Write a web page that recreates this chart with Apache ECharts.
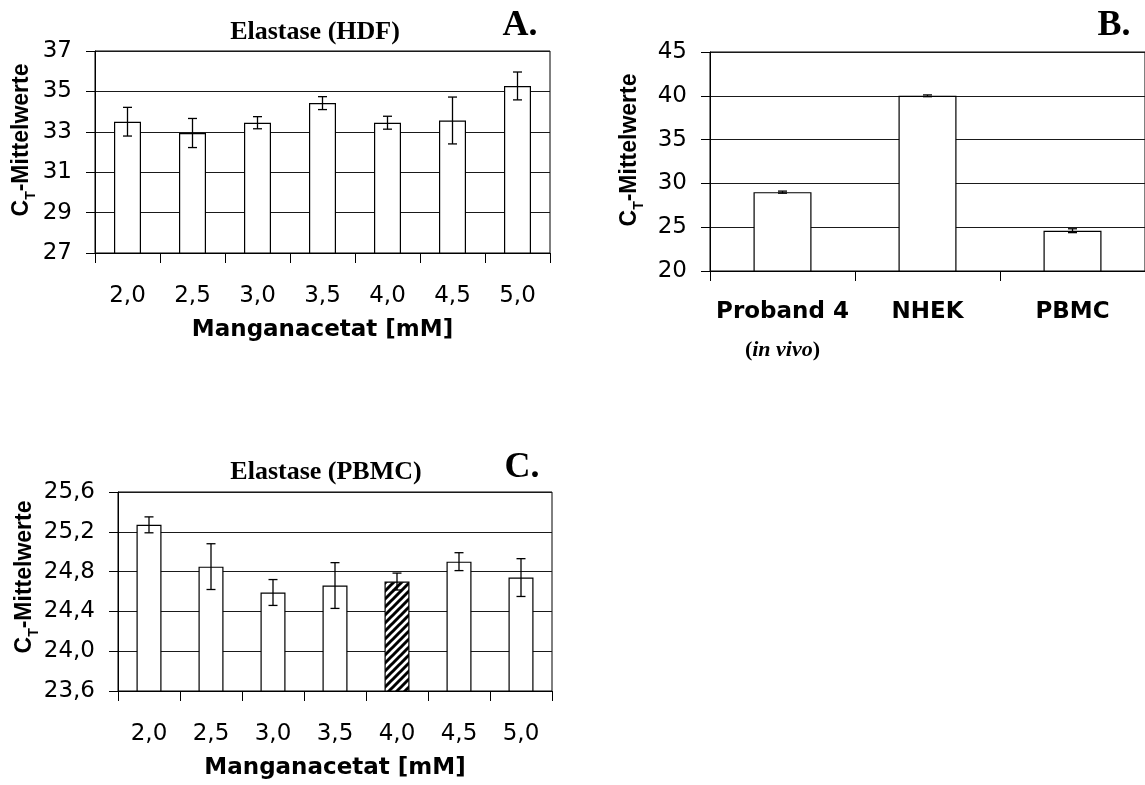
<!DOCTYPE html>
<html>
<head>
<meta charset="utf-8">
<script src="https://cdn.jsdelivr.net/npm/echarts@6/dist/echarts.min.js"></script>
<style>
  html, body { margin: 0; padding: 0; background: #fff; }
  #chart { width: 1145px; height: 785px; }
</style>
</head>
<body>
<div id="chart"></div>
<script>
// Elastase Ct means (manganese acetate series in HDF and PBMC, cell-source comparison)
const doses = ['2,0', '2,5', '3,0', '3,5', '4,0', '4,5', '5,0'];

const hdfMean = [33.50, 32.94, 33.45, 34.42, 33.45, 33.56, 35.27];
const hdfErr  = [0.71, 0.72, 0.30, 0.32, 0.32, 1.16, 0.69];

const sources    = ['Proband 4', 'NHEK', 'PBMC'];
const sourceMean = [29.0, 40.0, 24.6];
const sourceErr  = [0.12, 0.10, 0.22];

const pbmcMean = [25.27, 24.85, 24.59, 24.66, 24.70, 24.90, 24.74];
const pbmcErr  = [0.08, 0.23, 0.13, 0.23, 0.085, 0.09, 0.19];

// dose whose PBMC bar is drawn hatched
const hatchedDose = '4,0';

const SANS = 'DejaVu Sans';
const SERIF = 'Liberation Serif';

// diagonal hatch tile
const tile = document.createElement('canvas');
tile.width = 8; tile.height = 8;
(function () {
  const g = tile.getContext('2d');
  g.fillStyle = '#fff';
  g.fillRect(0, 0, 8, 8);
  g.strokeStyle = '#000';
  g.lineWidth = 3;
  g.beginPath();
  g.moveTo(-1, 9); g.lineTo(9, -1);
  g.moveTo(-5, 5); g.lineTo(5, -5);
  g.moveTo(3, 13); g.lineTo(13, 3);
  g.stroke();
})();

const comma = v => String(v).replace('.', ',');

function valueAxis(gridIndex, min, max, interval, fmt) {
  return {
    type: 'value', gridIndex, min, max, interval,
    axisLine: { show: true, lineStyle: { color: '#000', width: 1 } },
    axisTick: { show: true, length: 9, lineStyle: { color: '#000', width: 1 } },
    axisLabel: { color: '#000', fontFamily: SANS, fontSize: 23, margin: 23, formatter: fmt },
    splitLine: { show: true, lineStyle: { color: '#1a1a1a', width: 1 } }
  };
}

function catAxis(gridIndex, data, extra) {
  return Object.assign({
    type: 'category', gridIndex, data,
    axisLine: { show: true, lineStyle: { color: '#000', width: 1 } },
    axisTick: { show: true, length: 10, alignWithLabel: false, lineStyle: { color: '#000', width: 1 } },
    axisLabel: { color: '#000', fontFamily: SANS, fontSize: 23, margin: 32 },
    splitLine: { show: false }
  }, extra || {});
}

const xName = {
  name: 'Manganacetat [mM]',
  nameLocation: 'middle',
  nameGap: 66,
  nameTextStyle: { color: '#000', fontFamily: SANS, fontWeight: 'bold', fontSize: 23 }
};

function barSeries(idx, data, width, hatchIdx) {
  return {
    type: 'bar', xAxisIndex: idx, yAxisIndex: idx,
    barWidth: width,
    data: data.map((v, i) => ({
      value: v,
      itemStyle: i === hatchIdx ? { color: { image: tile, repeat: 'repeat' } } : undefined
    })),
    itemStyle: { color: '#fff', borderColor: '#000', borderWidth: 1.2 },
    silent: true, animation: false, z: 2
  };
}

function errSeries(idx, mean, err) {
  return {
    type: 'custom', xAxisIndex: idx, yAxisIndex: idx,
    data: mean.map((m, i) => [i, m, err[i]]),
    renderItem: function (params, api) {
      const i = api.value(0), m = api.value(1), e = api.value(2);
      const top = api.coord([i, m + e]);
      const bot = api.coord([i, m - e]);
      const x = top[0], hw = 4.5;
      const st = { stroke: '#000', lineWidth: 1.3 };
      return {
        type: 'group',
        children: [
          { type: 'line', shape: { x1: x, y1: top[1], x2: x, y2: bot[1] }, style: st },
          { type: 'line', shape: { x1: x - hw, y1: top[1], x2: x + hw, y2: top[1] }, style: st },
          { type: 'line', shape: { x1: x - hw, y1: bot[1], x2: x + hw, y2: bot[1] }, style: st }
        ]
      };
    },
    silent: true, animation: false, z: 5
  };
}

function yName(x, y) {
  return {
    type: 'text', x, y, rotation: Math.PI / 2,
    style: {
      text: '{c|C}{s|T}{c|-Mittelwerte}',
      align: 'center', verticalAlign: 'middle',
      rich: {
        c: { fontFamily: 'Liberation Sans', fontWeight: 'bold', fontSize: 23, lineHeight: 32, verticalAlign: 'middle', fill: '#000' },
        s: { fontFamily: 'Liberation Sans', fontWeight: 'bold', fontSize: 14, lineHeight: 14, verticalAlign: 'bottom', fill: '#000' }
      }
    }
  };
}

function label(text, x, y, size) {
  return {
    type: 'text', x, y,
    style: { text, fontFamily: SERIF, fontWeight: 'bold', fontSize: size, fill: '#000', align: 'center', verticalAlign: 'middle' }
  };
}

const gridStyle = { show: true, borderColor: '#000', borderWidth: 1, backgroundColor: 'transparent', containLabel: false };

const option = {
  animation: false,
  backgroundColor: '#fff',
  grid: [
    Object.assign({ left: 95, top: 51, width: 455, height: 202 }, gridStyle),
    Object.assign({ left: 710, top: 52, width: 435, height: 219 }, gridStyle),
    Object.assign({ left: 118, top: 492, width: 434, height: 199 }, gridStyle)
  ],
  xAxis: [
    catAxis(0, doses, xName),
    catAxis(1, sources, {
      axisLabel: {
        color: '#000', margin: 30,
        formatter: v => v === 'Proband 4' ? '{b|' + v + '}\n{p|(}{i|in vivo}{p|)}' : '{b|' + v + '}',
        rich: {
          b: { fontFamily: SANS, fontWeight: 'bold', fontSize: 23, lineHeight: 22, color: '#000' },
          p: { fontFamily: SERIF, fontWeight: 'bold', fontSize: 22, lineHeight: 54, color: '#000' },
          i: { fontFamily: SERIF, fontWeight: 'bold', fontStyle: 'italic', fontSize: 22, lineHeight: 54, color: '#000' }
        }
      }
    }),
    catAxis(2, doses, xName)
  ],
  yAxis: [
    valueAxis(0, 27, 37, 2, v => comma(v)),
    valueAxis(1, 20, 45, 5, v => comma(v)),
    valueAxis(2, 23.6, 25.6, 0.4, v => comma(Number(v).toFixed(1)))
  ],
  series: [
    barSeries(0, hdfMean, 27, -1),
    errSeries(0, hdfMean, hdfErr),
    barSeries(1, sourceMean, 58, -1),
    errSeries(1, sourceMean, sourceErr),
    barSeries(2, pbmcMean, 25, doses.indexOf(hatchedDose)),
    errSeries(2, pbmcMean, pbmcErr)
  ],
  graphic: [
    label('Elastase (HDF)', 315, 32, 26),
    label('A.', 520, 26, 36),
    label('B.', 1114, 26, 36),
    label('Elastase (PBMC)', 326, 472, 26),
    label('C.', 522, 468, 36),
    yName(22, 140),
    yName(630, 150),
    yName(25, 577)
  ]
};

const chart = echarts.init(document.getElementById('chart'), null, { renderer: 'canvas' });
chart.setOption(option);
</script>
</body>
</html>
